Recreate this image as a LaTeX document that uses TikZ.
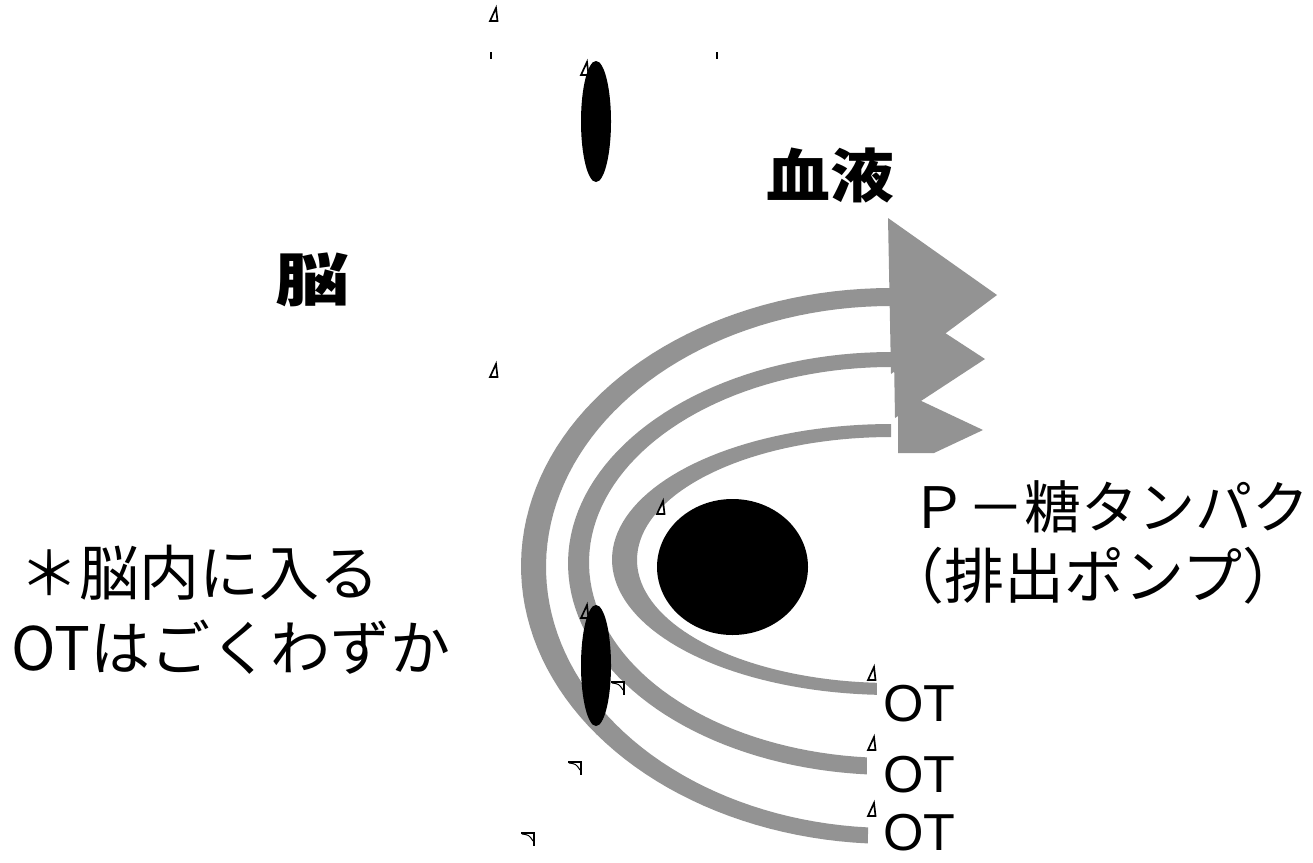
\documentclass[tikz,border=0pt]{standalone}
\usepackage{fontspec}
\usepackage{graphicx}
\setmainfont{Liberation Sans}
\newfontfamily\cjk{Noto Sans CJK JP}
\usetikzlibrary{shapes.geometric}
\definecolor{bandgray}{RGB}{147,147,147}
\tikzset{
  band/.style={fill=bandgray},
  blob/.style={ellipse, fill=black, inner sep=0pt},
  jtext/.style={inner sep=0pt, anchor=west, font=\cjk\fontsize{57}{63}\selectfont},
  jtextb/.style={inner sep=0pt, anchor=west, font=\cjk\fontsize{60}{66}\selectfont},
  jnote/.style={inner sep=0pt, anchor=west, font=\cjk\fontsize{60}{66}\selectfont},
  jbold/.style={inner sep=0pt, font=\cjk\bfseries\fontsize{58}{64}\selectfont},
  otlabel/.style={inner sep=0pt, anchor=west, font=\fontsize{52}{56}\selectfont},
  deltaglyph/.pic={\draw[line width=1.7pt, line join=miter] (6,0) -- (7.5,13) -- (0,13) -- cycle;},
  cornerglyph/.pic={\draw[line width=1.9pt] (0,0) -- (13,0) -- (13,13);
                    \draw[line width=1pt] (1,1) .. controls (8,2) .. (12,8);},
}
\begin{document}
\begin{tikzpicture}[x=1pt,y=-1pt]
\useasboundingbox (0,0) rectangle (1313,862);
% curved bands
\fill[band] plot[domain=270:93.6, samples=80] ({891+370*cos(\x)},{566+278*sin(\x)})
  -- plot[domain=93.8:270, samples=80] ({891+345*cos(\x)},{567+261*sin(\x)}) -- cycle;
\fill[band] plot[domain=270:94.3, samples=80] ({891+323*cos(\x)},{563.5+211.5*sin(\x)})
  -- plot[domain=94.6:270, samples=80] ({891+302*cos(\x)},{562.5+195.5*sin(\x)}) -- cycle;
\fill[band] plot[domain=270:92.9, samples=80] ({891+279*cos(\x)},{559.5+135.5*sin(\x)})
  -- plot[domain=93.2:270, samples=80] ({891+254*cos(\x)},{560+123*sin(\x)}) -- cycle;
% arrowheads
\fill[band] (888,218) -- (997,295) -- (891,374) -- cycle;
\fill[band] (893,299) -- (985,359) -- (895,418) -- cycle;
\fill[band] (898,390) -- (983,430) -- (934,453) -- (898,453) -- cycle;
% black shapes
\node[blob, minimum width=30pt, minimum height=121pt] (topcell) at (596,121.5) {};
\node[blob, minimum width=30pt, minimum height=121pt] (botcell) at (596,665.5) {};
\node[blob, minimum width=151pt, minimum height=136pt] (pgp) at (732.5,567) {};
% texts
\node[jbold] (blood) at (830,175) {\scalebox{1.1}[1]{血液}};
\node[jbold] (brain) at (313,280) {\scalebox{1.28}[1]{脳}};
\node[jtext] (pgpa) at (910,507) {Ｐ－糖タンパク};
\node[jtextb] (pgpb) at (884,576) {（排出ポンプ）};
\node[jnote] (notea) at (19,573) {＊脳内に入る};
\node[jnote] (noteb) at (11,647) {OTはごくわずか};
\node[otlabel] (ota) at (883,704) {OT};
\node[otlabel] (otb) at (883,775) {OT};
\node[otlabel] (otc) at (883,833) {OT};
% stray glyph marks
\draw[line width=2pt] (491,52) -- (491,59);
\draw[line width=2pt] (717,52) -- (717,59);
\pic at (490,8) {deltaglyph};
\pic at (581,62) {deltaglyph};
\pic at (490,364) {deltaglyph};
\pic at (657,501) {deltaglyph};
\pic at (581,605) {deltaglyph};
\pic at (868,667) {deltaglyph};
\pic at (868,737) {deltaglyph};
\pic at (868,803) {deltaglyph};
\pic at (611,682) {cornerglyph};
\pic at (568,762) {cornerglyph};
\pic at (521,833) {cornerglyph};
\end{tikzpicture}
\end{document}
